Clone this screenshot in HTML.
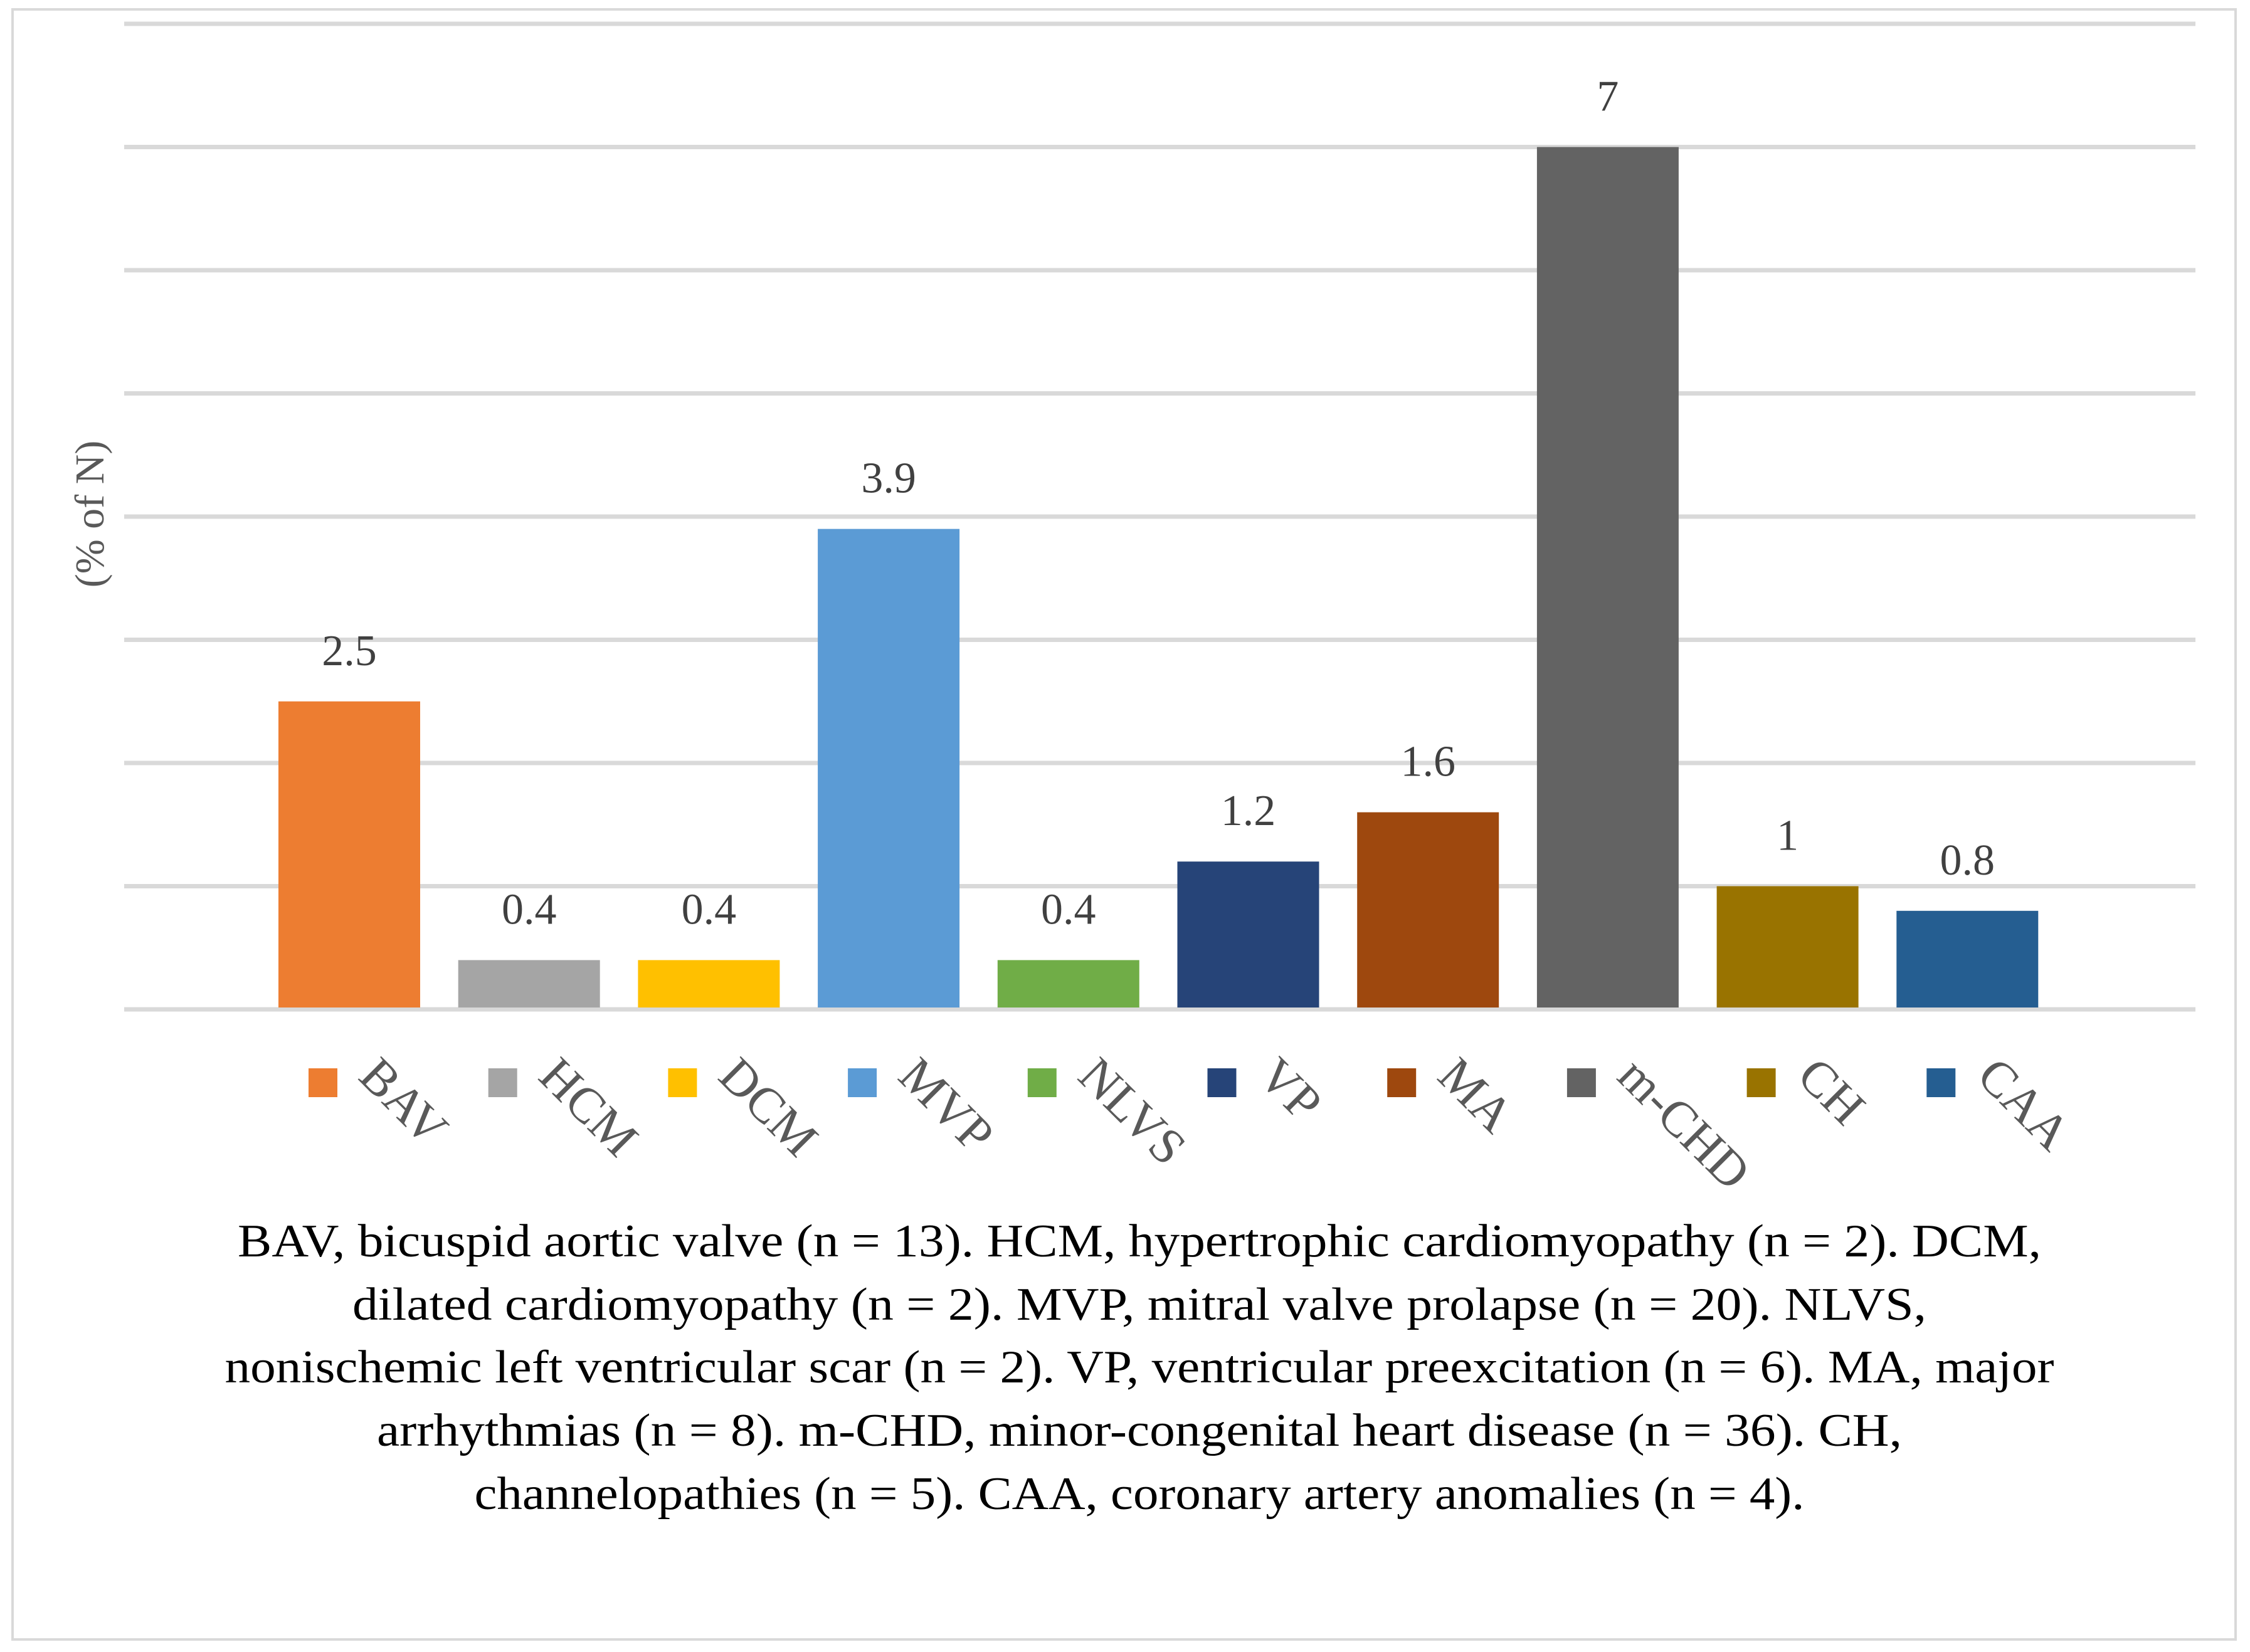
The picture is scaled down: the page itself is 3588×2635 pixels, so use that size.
<!DOCTYPE html>
<html><head><meta charset="utf-8"><style>
html,body{margin:0;padding:0;background:#fff;}
svg{display:block;}
</style></head><body>
<svg id="chart" width="3588" height="2635" viewBox="0 0 3588 2635" xmlns="http://www.w3.org/2000/svg">
<rect x="20" y="15" width="3545" height="2600" fill="#fff" stroke="#d9d9d9" stroke-width="4"/>
<g id="grid"></g>
<g id="bars"></g>
<g id="labels"></g>
<g id="legend"></g>
<text transform="translate(165,820) rotate(-90)" text-anchor="middle" font-family="Liberation Serif, serif" font-size="66" fill="#595959">(% of N)</text>
<g font-family="Liberation Serif, serif" font-size="74" fill="#000" text-anchor="middle">
<text x="1817" y="2004" textLength="2876" lengthAdjust="spacingAndGlyphs">BAV, bicuspid aortic valve (n = 13). HCM, hypertrophic cardiomyopathy (n = 2). DCM,</text>
<text x="1817" y="2105" textLength="2510" lengthAdjust="spacingAndGlyphs">dilated cardiomyopathy (n = 2). MVP, mitral valve prolapse (n = 20). NLVS,</text>
<text x="1817" y="2205" textLength="2917" lengthAdjust="spacingAndGlyphs">nonischemic left ventricular scar (n = 2). VP, ventricular preexcitation (n = 6). MA, major</text>
<text x="1817" y="2306" textLength="2432" lengthAdjust="spacingAndGlyphs">arrhythmias (n = 8). m-CHD, minor-congenital heart disease (n = 36). CH,</text>
<text x="1817" y="2407" textLength="2121" lengthAdjust="spacingAndGlyphs">channelopathies (n = 5). CAA, coronary artery anomalies (n = 4).</text>
</g>
</svg>
<script>
const categories = ["BAV","HCM","DCM","MVP","NLVS","VP","MA","m-CHD","CH","CAA"];
const values = [2.5,0.4,0.4,3.9,0.4,1.2,1.6,7,1,0.8];
const valueLabels = ["2.5","0.4","0.4","3.9","0.4","1.2","1.6","7","1","0.8"];
const colors = ["#ED7D31","#A5A5A5","#FFC000","#5B9BD5","#70AD47","#264478","#9E480E","#636363","#997300","#255E91"];
const gridTicks = [0,1,2,3,4,5,6,7,8];

const NS = "http://www.w3.org/2000/svg";
const yBase = 1610, yUnit = 196.5;
const x0 = 557, step = 286.7, barW = 226;
function y(v){ return yBase - v*yUnit; }
function xc(i){ return x0 + i*step; }
function mk(tag, attrs, parent){
  const e = document.createElementNS(NS, tag);
  for (const k in attrs) e.setAttribute(k, attrs[k]);
  parent.appendChild(e);
  return e;
}
const grid = document.getElementById('grid');
gridTicks.forEach(t => {
  const l = mk('line', {x1:198, x2:3501, y1:y(t), y2:y(t), stroke:'#d9d9d9', 'stroke-width':7}, grid);
  
  
});
const bars = document.getElementById('bars');
const labels = document.getElementById('labels');
const legend = document.getElementById('legend');
categories.forEach((c, i) => {
  const r = mk('rect', {x:xc(i)-barW/2, y:y(values[i]), width:barW, height:yBase-y(values[i])-3, fill:colors[i]}, bars);
  
  
  const t = mk('text', {x:xc(i), y:y(values[i])-58, 'text-anchor':'middle', 'font-family':'Liberation Serif, serif', 'font-size':70, fill:'#404040'}, labels);
  t.textContent = valueLabels[i];
  
  
  const sq = mk('rect', {x:xc(i)-65, y:1704, width:46, height:46, fill:colors[i]}, legend);
  
  
  const lx = xc(i)+12, ly = 1720;
  const lt = mk('text', {x:lx, y:ly, transform:'rotate(45 '+lx+' '+ly+')', 'font-family':'Liberation Serif, serif', 'font-size':80, fill:'#595959'}, legend);
  lt.textContent = c;
  
  
});
</script>
</body></html>
